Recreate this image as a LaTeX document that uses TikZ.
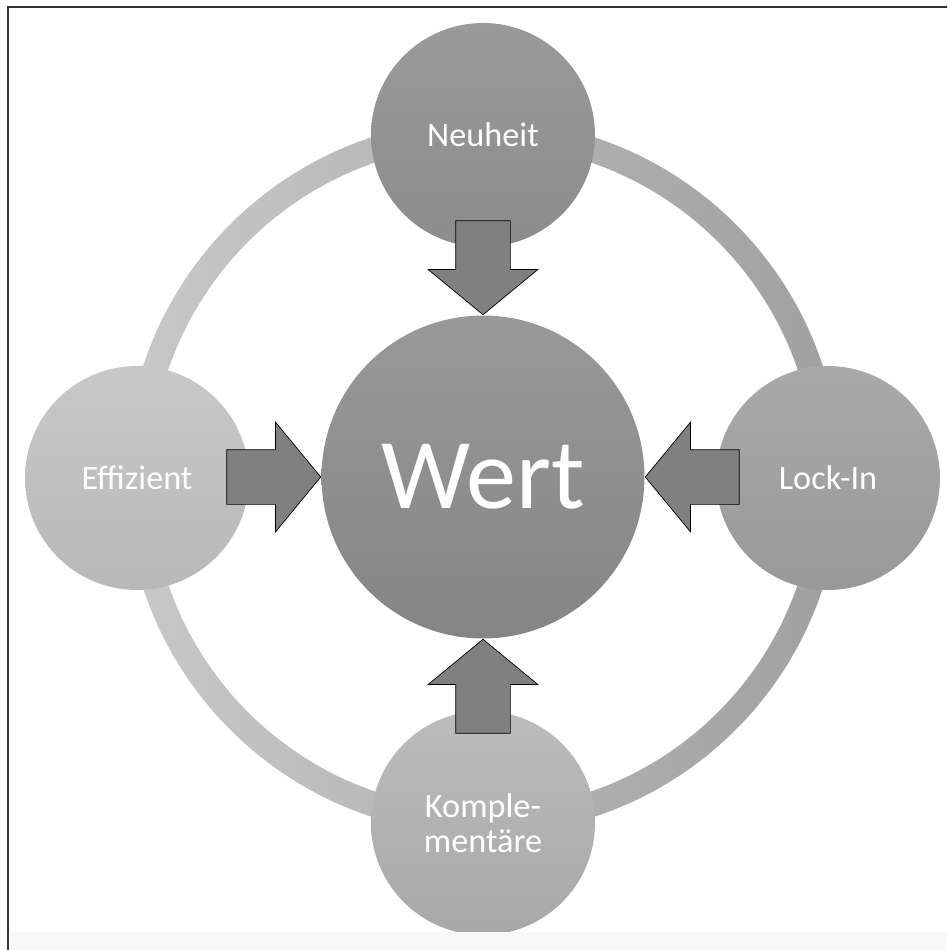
\documentclass[tikz,border=0pt]{standalone}
\usepackage{fontspec}
\setmainfont{Carlito}
\usepackage{tikz}
\usetikzlibrary{positioning,shapes.arrows}
\definecolor{ringlight}{HTML}{C8C8C8}
\definecolor{ringdark}{HTML}{A0A0A0}
\definecolor{arrowgray}{HTML}{808080}
\definecolor{framegray}{HTML}{333333}
\definecolor{stripgray}{HTML}{F8F8F8}
\definecolor{neutop}{HTML}{9A9A9A}
\definecolor{neubot}{HTML}{8C8C8C}
\definecolor{locktop}{HTML}{A9A9A9}
\definecolor{lockbot}{HTML}{999999}
\definecolor{efftop}{HTML}{C8C8C8}
\definecolor{effbot}{HTML}{B8B8B8}
\definecolor{komptop}{HTML}{BCBCBC}
\definecolor{kompbot}{HTML}{A8A8A8}
\definecolor{werttop}{HTML}{999999}
\definecolor{wertbot}{HTML}{858585}

\begin{document}
\begin{tikzpicture}[x=0.02cm, y=-0.02cm,
  every node/.style={font=\fontsize{19.5}{20}\selectfont, text=white},
  satellite/.style={circle, minimum size=4.48cm, inner sep=0pt, align=center},
  core/.style={circle, minimum size=6.46cm, inner sep=0pt,
    top color=werttop, bottom color=wertbot,
    font=\fontsize{57}{60}\selectfont},
  blockarrow/.style={single arrow, draw=black, fill=arrowgray, thin,
    inner sep=0.54cm, single arrow head extend=0.55cm,
    single arrow tip angle=101, minimum height=1.88cm, anchor=tip},
]
\useasboundingbox (0,0) rectangle (947,950);

% ring behind everything
\coordinate (mid) at (483,477);
\shade[left color=ringlight, right color=ringdark, even odd rule]
  (mid) circle[radius=7.15cm] (mid) circle[radius=6.65cm];

\node[satellite, top color=neutop, bottom color=neubot] at (483,135) (neuheit) {Neuheit};
\node[satellite, top color=locktop, bottom color=lockbot] at (828,478) (lockin) {Lock-In};
\node[satellite, top color=efftop, bottom color=effbot] at (137,478) (effizient) {Effizient};
\node[satellite, top color=komptop, bottom color=kompbot] at (483,823) (kompl) {Komple-\\mentäre};

\node[core] at (483,477) (wert) {Wert};

% block arrows into the core
\node[blockarrow, shape border rotate=270] at (wert.north) (arrN) {};
\node[blockarrow, shape border rotate=180] at (wert.east)  (arrE) {};
\node[blockarrow, shape border rotate=0]   at (wert.west)  (arrW) {};
\node[blockarrow, shape border rotate=90]  at (wert.south) (arrS) {};

% frame and bottom strip
\fill[stripgray] (10,932) rectangle (947,950);
\draw[framegray, line width=1.4pt] (8,950) -- (8,7) -- (947,7);
\end{tikzpicture}
\end{document}
